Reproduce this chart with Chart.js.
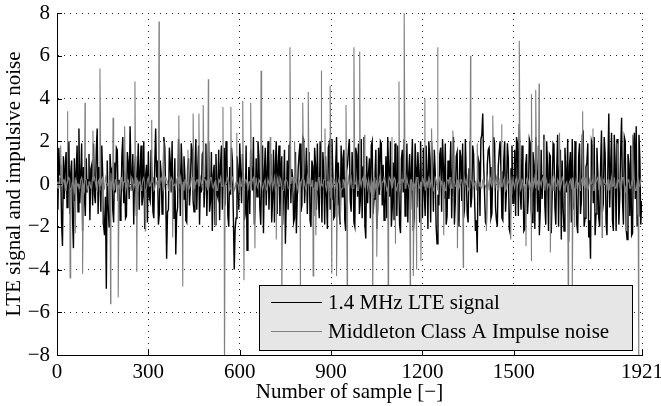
<!DOCTYPE html>
<html>
<head>
<meta charset="utf-8">
<script src="https://cdn.jsdelivr.net/npm/chart.js@4"></script>
<style>
  html, body { margin: 0; padding: 0; background: #fff; }
  canvas { display: block; }
</style>
</head>
<body>
<canvas id="sig" width="661" height="406"></canvas>
<script>
// --- DATA ---
const SAMPLE_STEP = 6;          // the lists below hold every 6th sample, the *Mid lists the samples halfway between
const X_MAX = 1921;
const xTicks = [0, 300, 600, 900, 1200, 1500, 1921];
const yTicks = [-8, -6, -4, -2, 0, 2, 4, 6, 8];

const seriesNames = ['1.4 MHz LTE signal', 'Middleton Class A Impulse noise'];

// LTE signal at samples 0, 6, 12, ...
const lteValues = [
  0.6, 1.7, 0.9, -2.9, -0.7, 1.5, 0.3, -1.4, 1.1, -3.0, -0.8, 1.8, 2.6, 0.4, -2.2, -0.6, 1.2, 0.2, -1.7, 0.9,
  1.9, -0.9, 2.6, 0.8, -1.3, 0.5, -2.4, -4.9, -1.0, 1.4, 0.7, -1.8, -0.4, 1.6, 0.2, -1.1, 2.2, 0.6, -1.5, 1.0,
  2.7, -0.3, -1.9, 1.3, 0.4, -1.2, 1.8, -0.6, -2.1, 0.9, 1.5, -0.8, 0.3, -1.6, 2.6, 1.1, -1.4, 0.5, -0.9, 1.7,
  -3.5, -1.2, 1.0, 2.0, -0.5, -3.3, -1.1, 0.8, 1.9, -0.7, 0.4, -1.8, 1.2, -0.2, 1.6, -1.3, 2.1, 0.6, -1.9, -0.4,
  1.5, 0.3, -1.5, 2.0, -0.8, -2.2, 0.9, 1.4, -0.6, -1.7, 1.8, 0.2, -1.0, 1.3, -2.0, -0.5, 1.1, -4.0, -1.6, 0.7,
  1.9, -0.9, 0.5, -1.4, -3.1, 0.8, 1.6, -0.3, -1.9, 1.2, 2.0, -1.1, 0.4, -2.3, 1.7, 0.6, -1.2, 1.4, -0.7, -1.8,
  2.0, 0.9, -1.5, 1.3, -0.4, -2.8, 1.1, 1.8, -0.9, 0.3, -1.6, -2.3, 0.7, 1.9, -1.0, 2.1, 0.2, -1.4, 1.5, -2.0,
  0.8, 1.7, -1.2, -0.5, 2.0, -1.8, 0.6, 1.3, -2.1, 1.9, -0.7, 0.4, -1.5, 2.2, 1.0, -1.9, -0.6, 1.6, -2.2, 0.9,
  2.1, -1.3, 0.5, -2.0, 1.4, 1.9, -0.8, -1.6, 2.2, -2.55, -0.9, 1.2, 1.8, -1.4, 0.3, -2.1, 1.7, 2.0, -1.0, -1.7,
  1.3, 2.2, -0.6, -2.0, 1.0, 1.9, -1.5, 0.4, -2.3, 1.6, 2.1, -0.9, -1.8, 1.4, 0.7, -2.2, 1.9, -1.1, 0.5, 2.0,
  -1.6, -0.4, 1.8, -2.1, 1.2, 2.0, -1.3, 0.6, -2.8, -1.0, 1.7, 2.1, -0.7, -1.9, 1.1, 0.4, -1.6, 2.2, -0.8, 1.5,
  -2.0, 1.3, 1.9, -1.2, 0.3, -1.8, 2.0, -0.6, 1.4, -2.2, -3.2, 1.0, 2.1, 3.3, -0.5, -1.9, 1.6, 0.8, -1.4, 2.2,
  -1.1, -2.0, 1.5, 0.6, -1.7, 2.0, -0.3, 1.2, -2.3, 1.8, -0.9, -1.5, 1.9, 2.8, -1.2, 0.5, -2.1, 1.4, -0.6, 1.9,
  -1.8, 0.9, 2.2, -1.3, -2.4, 1.6, 0.4, -1.0, 2.0, -2.2, 1.3, -0.5, 1.8, -1.9, 2.3, 0.7, -2.6, -1.1, 1.7, -0.4,
  -2.7, 1.5, 2.1, -1.2, 0.6, -2.3, 1.9, -0.8, 2.4, -1.6, 1.0, -2.5, -3.5, 1.8, 2.2, -1.4, 0.5, -2.0, 2.5, -0.9,
  1.4, -2.4, 3.3, 0.8, -1.7, 2.3, -2.2, 1.1, -0.6, 3.1, -1.9, 2.0, -2.6, 0.9, 1.8, -2.3, 2.4, 2.7, -1.5, 1.2,
  -0.8
];
// LTE signal at samples 3, 9, 15, ...
const lteMid = [
  -1.2, 0.4, -1.8, 1.3, 0.9, -1.1, 2.0, 0.5, -1.6, 1.2, 0.6, -1.3, -0.9, 1.9, 0.8, -1.5, -0.4, 1.4, 0.7, -1.0,
  -0.5, 1.6, -1.4, 0.3, 1.8, -1.9, -0.6, 1.1, -2.0, 0.6, -1.2, 1.0, 1.7, -0.8, -1.7, 1.3, -0.9, -1.6, 1.5, -0.7,
  0.5, 1.4, 0.8, -1.5, 1.9, 0.7, -1.0, 2.0, 0.4, -1.8, -0.6, 1.6, -1.3, 0.9, 0.3, -1.9, 1.1, -1.4, 2.2, -0.5,
  -1.3, 1.7, -0.4, -1.6, 1.2, -1.4, 2.1, -1.5, 0.6, 1.3, -1.7, 0.8, -1.0, 1.9, -0.8, 0.7, -1.2, 1.8, 0.3, 1.4,
  -1.1, 1.9, 0.6, -1.3, 1.5, 0.4, -1.9, -0.4, 1.6, 0.9, -1.2, 1.7, 2.0, -1.5, 0.8, 1.7, -1.4, -2.1, 1.3, -1.2,
  0.6, 1.4, -1.7, 1.8, -0.9, -1.4, 0.5, 2.2, -1.1, -0.6, 1.3, -1.9, 1.8, 0.6, -1.0, 2.0, 0.4, -1.8, 1.6, 0.9,
  -1.4, 1.8, 0.5, -1.9, 1.6, -0.8, -1.2, 2.0, 0.7, -1.8, 1.5, -0.6, 1.4, -1.3, 2.2, -0.9, 1.7, 0.8, -1.7, 1.1,
  -1.5, 0.9, 1.9, -1.6, 0.7, 1.5, -1.9, -0.5, 1.7, -1.2, 2.1, -1.6, 0.8, -1.0, -1.4, 1.8, 1.2, -1.7, 0.6, 1.6,
  -0.8, 1.5, -1.8, 1.7, -0.6, -1.4, 2.1, 0.8, -1.9, 1.3, 0.5, -1.6, 2.0, -0.7, 1.6, -1.2, -0.5, 1.9, 0.9, -1.3,
  -1.6, 0.7, 2.0, -1.1, -1.7, 0.6, 1.8, -1.9, 1.2, -0.4, -1.5, 1.9, 0.5, -1.2, 2.1, -1.6, 0.8, 1.5, -1.8, -0.6,
  1.7, -1.5, 0.6, 2.0, -1.8, 0.9, 1.6, -2.0, -0.5, 1.4, -1.3, 0.8, 1.9, -1.5, -0.7, 2.0, 0.6, -1.9, 1.3, -1.0,
  1.6, -0.8, -1.6, 2.1, -1.4, 0.7, -1.1, 1.8, -0.6, -1.7, 1.2, -1.5, 2.3, 1.0, -1.8, 0.9, 1.7, -1.6, 0.5, 1.9,
  -1.7, 0.8, 2.0, -1.6, 1.1, -1.3, 1.9, -2.1, 0.7, -0.9, 1.6, 2.2, -1.5, -0.4, 1.8, -2.2, 0.9, -1.4, 2.1, -1.2,
  1.5, -2.1, 0.6, 1.8, -1.2, -0.7, 2.3, -1.9, 0.8, 1.4, -2.3, 1.9, -1.1, 0.7, -2.0, 1.6, 1.1, -2.2, 0.5, 2.1,
  0.9, -1.8, -0.6, 2.0, -1.9, 1.3, -1.4, 2.3, -2.0, 0.8, 1.9, -1.7, 2.0, -0.9, -2.4, 1.7, -1.6, 0.9, -1.3, 2.2,
  -1.8, 0.9, -1.1, 2.4, -2.2, 1.0, 2.1, -1.9, 1.6, -0.8, 2.2, -2.1, 1.4, -1.5, -2.4, 1.8, -0.7, -2.0, 2.3, -1.9
];

// impulse noise floor between the impulses, samples 0, 6, 12, ...
const noiseFloor = [
  0.1, -0.2, 0.3, -0.1, 0.2, -0.3, 0.1, 0.2, -0.2, 0.0, 0.3, -0.1, -0.2, 0.2, 0.1, -0.3, 0.2, -0.1, 0.1, -0.2,
  0.2, 0.1, -0.3, 0.2, -0.1, 0.3, -0.2, 0.1, -0.1, 0.2, -0.3, 0.1, 0.2, -0.2, 0.0, 0.3, -0.2, 0.1, -0.1, 0.2,
  -0.1, 0.3, -0.2, -0.1, 0.2, 0.1, -0.3, 0.2, 0.0, -0.2, 0.3, -0.1, 0.1, -0.3, 0.2, 0.1, -0.2, 0.3, -0.1, 0.0,
  0.2, -0.3, 0.1, 0.2, -0.1, -0.2, 0.3, 0.0, -0.2, 0.1, 0.2, -0.3, 0.1, -0.1, 0.3, -0.2, 0.0, 0.2, -0.1, 0.1,
  -0.3, 0.2, 0.1, -0.2, 0.3, -0.1, 0.0, 0.2, -0.3, 0.1, -0.1, 0.3, -0.2, 0.2, 0.1, -0.2, 0.3, -0.3, 0.1, 0.0,
  0.3, -0.1, -0.2, 0.2, 0.0, 0.1, -0.3, 0.2, -0.1, 0.3, -0.2, 0.1, 0.0, -0.1, 0.2, -0.3, 0.2, 0.1, -0.2, 0.3,
  -0.2, 0.1, 0.3, -0.1, -0.3, 0.2, 0.1, -0.2, 0.0, 0.3, -0.1, 0.2, -0.3, 0.1, 0.2, -0.1, -0.2, 0.3, 0.0, -0.1,
  0.2, -0.2, 0.1, 0.3, -0.3, 0.0, 0.2, -0.1, 0.1, -0.2, 0.3, -0.1, 0.2, -0.3, 0.1, 0.0, -0.2, 0.2, 0.3, -0.1,
  -0.1, 0.3, -0.2, 0.0, 0.2, -0.3, 0.1, 0.2, -0.1, 0.3, -0.2, -0.1, 0.2, 0.1, -0.3, 0.2, 0.0, -0.2, 0.1, 0.3,
  0.0, -0.2, 0.3, -0.1, 0.1, 0.2, -0.3, 0.1, -0.2, 0.2, 0.3, -0.1, 0.0, -0.3, 0.2, 0.1, -0.1, 0.3, -0.2, 0.1,
  0.3, -0.1, 0.0, -0.2, 0.2, 0.1, -0.3, 0.3, -0.1, 0.2, -0.2, 0.0, 0.1, -0.3, 0.2, 0.3, -0.2, 0.1, -0.1, 0.2,
  -0.2, 0.2, -0.1, 0.3, 0.0, -0.3, 0.1, 0.2, -0.2, 0.1, 0.3, -0.1, -0.2, 0.2, 0.0, -0.3, 0.1, 0.3, -0.1, 0.2,
  0.1, -0.3, 0.2, 0.0, -0.1, 0.3, -0.2, 0.1, 0.2, -0.3, 0.0, 0.2, -0.1, 0.3, -0.2, 0.1, -0.3, 0.2, 0.1, -0.1,
  0.3, 0.0, -0.2, 0.1, 0.2, -0.1, 0.3, -0.3, 0.1, 0.0, -0.2, 0.3, 0.1, -0.1, 0.2, -0.3, 0.0, 0.2, -0.2, 0.1,
  -0.1, 0.2, 0.3, -0.2, 0.0, 0.1, -0.3, 0.2, -0.1, 0.3, 0.1, -0.2, 0.0, 0.2, -0.3, 0.1, 0.3, -0.1, -0.2, 0.2,
  0.0, -0.3, 0.2, 0.1, -0.1, 0.3, -0.2, 0.0, 0.2, -0.1, 0.3, -0.3, 0.1, 0.2, -0.2, 0.0, 0.1, -0.3, 0.2, -0.1,
  0.1
];
// noise floor at samples 3, 9, 15, ...
const noiseMid = [
  -0.2, 0.3, -0.1, 0.2, -0.3, 0.1, 0.3, -0.2, 0.1, -0.3, 0.2, 0.0, -0.2, 0.3, -0.1, 0.2, -0.3, 0.1, -0.2, 0.3,
  0.3, -0.2, 0.1, -0.3, 0.2, -0.1, 0.3, 0.0, -0.2, 0.1, 0.3, -0.3, 0.2, -0.1, -0.2, 0.3, 0.1, -0.3, 0.2, -0.1,
  -0.3, 0.2, 0.0, 0.3, -0.2, 0.1, -0.1, 0.3, -0.3, 0.2, -0.1, 0.1, 0.3, -0.2, 0.0, -0.3, 0.2, 0.1, -0.2, 0.3,
  0.1, -0.3, 0.3, -0.1, 0.0, 0.2, -0.2, 0.3, -0.1, -0.3, 0.2, 0.1, -0.2, 0.3, -0.3, 0.1, 0.2, -0.1, 0.3, -0.2,
  0.2, 0.0, -0.3, 0.1, 0.3, -0.2, 0.1, -0.3, 0.2, 0.3, -0.1, -0.2, 0.1, 0.3, -0.3, 0.0, 0.2, -0.2, 0.1, -0.3,
  -0.1, 0.3, -0.2, 0.2, -0.3, 0.1, 0.0, 0.3, -0.2, -0.1, 0.2, 0.3, -0.3, 0.1, -0.2, 0.2, -0.1, 0.3, 0.0, -0.3,
  0.3, -0.1, 0.2, -0.3, 0.1, 0.2, -0.2, 0.0, 0.3, -0.3, 0.1, -0.1, 0.2, -0.2, 0.3, 0.1, -0.3, 0.0, 0.2, -0.1,
  -0.2, 0.1, -0.3, 0.3, 0.0, -0.1, 0.2, -0.3, 0.1, 0.3, -0.2, 0.2, -0.1, 0.0, 0.3, -0.3, 0.2, -0.2, 0.1, 0.3,
  0.1, -0.2, 0.3, 0.0, -0.3, 0.2, -0.1, 0.3, -0.2, 0.1, 0.2, -0.3, 0.0, 0.3, -0.1, -0.2, 0.3, -0.3, 0.1, 0.2,
  -0.3, 0.1, 0.2, -0.2, 0.3, -0.1, 0.0, -0.3, 0.2, 0.1, -0.2, 0.3, -0.1, 0.2, -0.3, 0.0, 0.1, 0.3, -0.2, -0.1,
  0.2, -0.3, 0.1, 0.3, -0.1, 0.0, -0.2, 0.2, -0.3, 0.3, 0.1, -0.1, -0.3, 0.2, 0.0, 0.3, -0.2, 0.1, -0.1, 0.2,
  -0.1, 0.2, -0.3, 0.1, 0.3, -0.2, 0.2, -0.1, 0.0, -0.3, 0.3, 0.1, -0.2, 0.2, -0.1, 0.3, -0.3, 0.0, 0.2, -0.2,
  0.3, 0.1, -0.2, -0.1, 0.2, -0.3, 0.3, 0.0, -0.1, 0.2, -0.2, 0.3, 0.1, -0.3, 0.2, -0.1, 0.0, 0.3, -0.2, 0.1,
  -0.2, 0.3, 0.0, -0.3, 0.1, 0.2, -0.1, 0.3, -0.2, 0.0, 0.2, -0.3, 0.3, -0.1, 0.1, -0.2, 0.3, -0.1, 0.0, -0.3,
  0.1, -0.1, 0.3, -0.2, 0.2, 0.0, -0.3, 0.1, 0.3, -0.2, -0.1, 0.2, 0.0, -0.3, 0.3, 0.1, -0.2, 0.2, -0.3, 0.1,
  0.0, 0.2, -0.3, 0.3, -0.1, -0.2, 0.1, 0.2, -0.3, 0.3, 0.0, -0.1, 0.2, -0.2, 0.1, 0.3, -0.3, 0.1, -0.1, 0.2
];

// single-sample impulses: where they sit and how high they go
const impulseAt = [
  12, 34, 43, 60, 84, 92, 118, 141, 150, 176, 184, 201, 222, 256, 262, 290, 311, 335, 350, 380,
  400, 413, 430, 447, 466, 480, 497, 520, 545, 550, 571, 590, 610, 614, 636, 650, 670, 700, 720, 738,
  765, 780, 798, 807, 825, 841, 850, 867, 880, 897, 902, 918, 930, 949, 953, 975, 994, 1010, 1037, 1050,
  1088, 1100, 1110, 1123, 1140, 1160, 1170, 1180, 1195, 1208, 1230, 1250, 1270, 1300, 1315, 1334, 1358, 1380, 1410, 1431,
  1460, 1490, 1518, 1540, 1557, 1559, 1572, 1583, 1600, 1620, 1650, 1679, 1692, 1700, 1726, 1760, 1790, 1840, 1870, 1890,
  1910
];
const impulseValue = [
  1.8, 3.4, -4.4, -2.3, -4.2, 3.8, 2.5, 5.4, -1.9, -5.6, 3.1, -5.3, 2.7, 4.8, -4.1, -2.2, 3.0, 7.6, 2.0, -2.5,
  3.2, -4.8, 1.6, 3.3, 3.3, 3.7, 4.9, -2.0, 3.6, -9.5, 3.6, 2.4, 3.9, -4.5, 3.8, -3.0, 5.3, 2.2, -2.6, -6.0,
  6.4, 2.0, -5.5, 3.8, 4.3, -4.3, -2.4, 5.3, 2.6, 4.6, -4.2, -4.3, -1.8, 3.7, -5.2, 6.4, 6.2, 2.3, -5.8, -3.4,
  -6.5, 2.2, -2.8, 4.8, 8.2, -5.4, -4.3, -4.0, -3.6, 4.0, 2.6, 6.4, -2.4, 2.5, -3.0, -3.9, 6.0, 1.9, -2.2, 3.2,
  2.8, -2.6, 6.7, -2.9, -3.6, 4.2, 4.4, 4.7, 2.1, -3.2, 2.4, -6.2, -5.0, -2.0, 3.4, 2.6, -2.5, 1.9, -2.2, 2.3,
  -9.0
];

// --- BUILD POINTS ---
function interleave(onGrid, between) {
  const pts = onGrid.map((v, i) => ({ x: i * SAMPLE_STEP, y: v }));
  between.forEach((v, i) => pts.push({ x: i * SAMPLE_STEP + SAMPLE_STEP / 2, y: v }));
  return pts.sort((a, b) => a.x - b.x);
}

const ltePoints = interleave(lteValues, lteMid);
const noisePoints = interleave(noiseFloor, noiseMid)
  .concat(impulseAt.map((s, i) => ({ x: s, y: impulseValue[i] })))
  .sort((a, b) => a.x - b.x);

const FONT = "'Liberation Serif', 'Times New Roman', serif";
const FONT_SIZE = 21;
const LTE_COLOR = '#000000';
const NOISE_COLOR = '#808080';

// inward ticks + MATLAB-style legend on top of the traces
const matlabBits = {
  id: 'matlabBits',
  afterDatasetsDraw(chart) {
    const ctx = chart.ctx;
    const { x, y } = chart.scales;
    const area = chart.chartArea;
    ctx.save();
    ctx.strokeStyle = '#000';
    ctx.lineWidth = 1;
    ctx.beginPath();
    xTicks.forEach(t => {
      const px = Math.round(x.getPixelForValue(t)) + 0.5;
      ctx.moveTo(px, area.bottom);
      ctx.lineTo(px, area.bottom - 5);
    });
    yTicks.forEach(t => {
      const py = Math.round(y.getPixelForValue(t)) + 0.5;
      ctx.moveTo(area.left, py);
      ctx.lineTo(area.left + 5, py);
    });
    ctx.stroke();

    // legend box
    const bx = 259.5, by = 285.5, bw = 373, bh = 65;
    ctx.fillStyle = '#e6e6e6';
    ctx.fillRect(bx, by, bw, bh);
    ctx.strokeRect(bx, by, bw, bh);
    const rows = [
      { label: seriesNames[0], color: LTE_COLOR, y: 302.5 },
      { label: seriesNames[1], color: NOISE_COLOR, y: 331.5 }
    ];
    ctx.font = FONT_SIZE + 'px ' + FONT;
    ctx.textBaseline = 'middle';
    rows.forEach(r => {
      ctx.strokeStyle = r.color;
      ctx.beginPath();
      ctx.moveTo(271, r.y);
      ctx.lineTo(322, r.y);
      ctx.stroke();
      ctx.fillStyle = '#000';
      ctx.fillText(r.label, 328, r.y + 1);
    });
    ctx.restore();
  }
};

new Chart(document.getElementById('sig'), {
  type: 'line',
  data: {
    datasets: [
      { label: seriesNames[1], data: noisePoints, borderColor: NOISE_COLOR, borderWidth: 1.1, order: 0 },
      { label: seriesNames[0], data: ltePoints, borderColor: LTE_COLOR, borderWidth: 1.4, order: 1 }
    ]
  },
  options: {
    responsive: false,
    animation: false,
    layout: { padding: { top: 13, right: 19, left: 0, bottom: 0 } },
    elements: { point: { radius: 0 }, line: { tension: 0 } },
    plugins: { legend: { display: false }, tooltip: { enabled: false } },
    scales: {
      x: {
        type: 'linear',
        min: 0,
        max: X_MAX,
        afterBuildTicks: s => { s.ticks = xTicks.map(v => ({ value: v })); },
        afterFit: s => { s.height = 51; s.paddingLeft = 0; s.paddingRight = 0; },
        grid: { color: '#222', lineWidth: 1, drawTicks: false },
        border: { display: true, color: '#000', width: 1, dash: [1, 5] },
        ticks: { color: '#000', padding: 5, maxRotation: 0, font: { family: FONT, size: FONT_SIZE }, callback: v => String(v) },
        title: { display: true, text: 'Number of sample [−]', color: '#000', padding: { top: 0, bottom: 1 }, font: { family: FONT, size: FONT_SIZE } }
      },
      y: {
        min: -8,
        max: 8,
        afterBuildTicks: s => { s.ticks = yTicks.map(v => ({ value: v })); },
        afterFit: s => { s.width = 57; s.paddingTop = 0; s.paddingBottom = 0; },
        grid: { color: '#222', lineWidth: 1, drawTicks: false },
        border: { display: true, color: '#000', width: 1, dash: [1, 5] },
        ticks: { color: '#000', padding: 7, font: { family: FONT, size: FONT_SIZE }, callback: v => String(v).replace('-', '−') },
        title: { display: true, text: 'LTE signal and impulsive noise', color: '#000', padding: { top: 2, bottom: 0 }, font: { family: FONT, size: FONT_SIZE } }
      }
    }
  },
  plugins: [matlabBits]
});
</script>
</body>
</html>
